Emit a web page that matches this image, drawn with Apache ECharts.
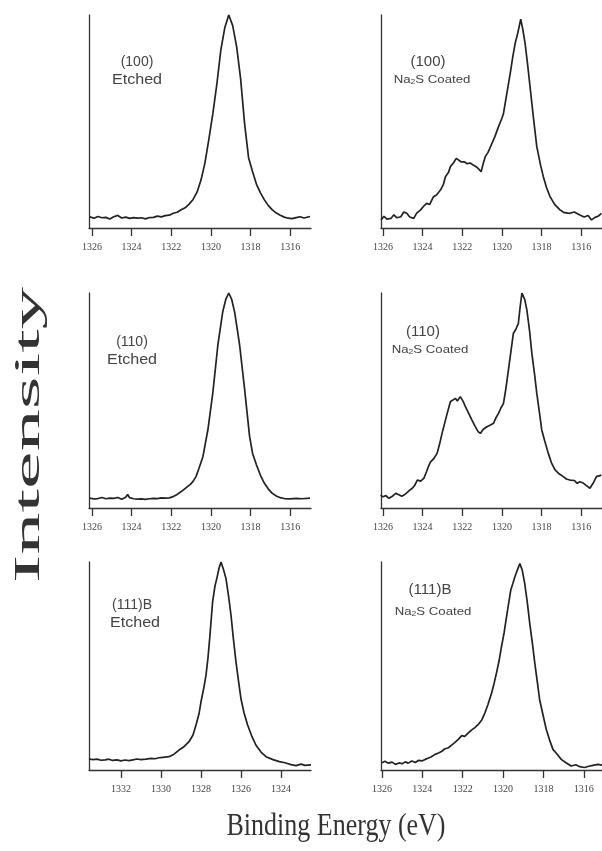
<!DOCTYPE html>
<html>
<head>
<meta charset="utf-8">
<script src="https://cdn.jsdelivr.net/npm/echarts@6/dist/echarts.min.js"></script>
<style>
html,body{margin:0;padding:0;background:#fff}
#main{width:602px;height:851px}
</style>
</head>
<body>
<div id="main"></div>
<script>
// tick labels
var ticksMain = [1326, 1324, 1322, 1320, 1318, 1316];
var ticks111 = [1332, 1330, 1328, 1326, 1324];

// [binding energy, intensity]
var etched100 = [[1326.1,5.2],[1325.9,4.6],[1325.7,5.4],[1325.5,4.8],[1325.3,5.0],[1325.1,4.2],[1324.9,5.3],[1324.7,5.9],[1324.5,4.7],[1324.3,5.1],[1324.1,4.5],[1323.9,4.9],[1323.7,4.6],[1323.5,4.8],[1323.3,4.3],[1323.1,4.9],[1322.9,5.0],[1322.7,5.6],[1322.5,5.2],[1322.3,5.8],[1322.1,6.0],[1321.9,6.9],[1321.7,7.4],[1321.5,8.6],[1321.3,9.5],[1321.1,11.2],[1320.9,13.4],[1320.7,16.8],[1320.5,22.5],[1320.3,30.6],[1320.1,41.8],[1319.9,53.8],[1319.7,67.5],[1319.5,83.5],[1319.3,94],[1319.1,100],[1318.9,95],[1318.7,85],[1318.5,70],[1318.3,49],[1318.1,33],[1317.9,26.5],[1317.7,20.5],[1317.5,16.5],[1317.3,13.2],[1317.1,10.5],[1316.9,8.5],[1316.7,7.0],[1316.5,6.0],[1316.3,5.1],[1316.1,4.6],[1315.9,4.4],[1315.7,4.9],[1315.5,5.3],[1315.3,4.7],[1315.0,5.4]];

var coated100 = [[1326.1,3.8],[1325.95,5.5],[1325.8,4.2],[1325.6,4.5],[1325.45,6.2],[1325.3,4.8],[1325.1,5.3],[1324.95,7.5],[1324.8,6.9],[1324.65,5.2],[1324.45,4.5],[1324.3,7.0],[1324.1,8.5],[1323.95,10.2],[1323.8,11.6],[1323.65,11.0],[1323.45,14.7],[1323.3,15.5],[1323.1,17.8],[1322.95,20.5],[1322.85,24.1],[1322.7,26.0],[1322.6,28.8],[1322.45,30.5],[1322.3,32.7],[1322.2,31.8],[1322.05,31.0],[1321.9,31.1],[1321.75,30.2],[1321.6,30.5],[1321.45,29.6],[1321.3,28.8],[1321.15,27.5],[1321.05,26.4],[1320.95,30.0],[1320.84,33.5],[1320.7,35.5],[1320.5,39.8],[1320.35,43.0],[1320.17,47.6],[1320.0,51.5],[1319.92,53.8],[1319.8,60.5],[1319.75,63.2],[1319.58,72.6],[1319.45,80.5],[1319.33,86.7],[1319.2,91.5],[1319.05,98],[1318.95,93.5],[1318.83,86.7],[1318.7,76.5],[1318.58,66.3],[1318.4,51],[1318.24,38.2],[1318.05,29.5],[1317.91,24.1],[1317.75,19.0],[1317.57,14.7],[1317.35,11.2],[1317.07,8.5],[1316.85,7.2],[1316.57,6.9],[1316.35,7.5],[1316.07,6.1],[1315.85,5.2],[1315.65,5.9],[1315.48,3.8],[1315.3,5.0],[1315.15,5.5],[1314.98,6.9]];

var etched110 = [[1326.1,4.6],[1325.9,4.2],[1325.7,4.4],[1325.5,4.9],[1325.3,4.3],[1325.1,4.6],[1324.9,4.5],[1324.7,4.9],[1324.5,4.1],[1324.3,5.0],[1324.2,6.3],[1324.1,4.8],[1323.9,4.3],[1323.7,4.1],[1323.5,4.2],[1323.3,4.0],[1323.1,4.3],[1322.9,4.5],[1322.7,4.4],[1322.5,4.7],[1322.3,4.6],[1322.1,4.7],[1321.9,5.3],[1321.75,6.0],[1321.55,7.3],[1321.4,8.3],[1321.2,9.8],[1321.05,10.9],[1320.9,12.4],[1320.75,14.6],[1320.6,18.5],[1320.4,24],[1320.15,36.5],[1319.9,53.8],[1319.65,75.7],[1319.4,91.4],[1319.25,97],[1319.1,100],[1318.95,97],[1318.8,91],[1318.55,75.7],[1318.3,55.3],[1318.05,33.4],[1317.9,25.5],[1317.7,20.0],[1317.5,15.2],[1317.3,11.5],[1317.1,8.8],[1316.9,6.8],[1316.7,5.6],[1316.5,4.8],[1316.3,4.4],[1316.0,4.2],[1315.7,4.5],[1315.4,4.3],[1315.0,4.6]];

var coated110 = [[1326.12,6.0],[1326.0,5.2],[1325.85,5.8],[1325.7,4.5],[1325.55,5.3],[1325.36,6.8],[1325.2,6.2],[1325.05,5.5],[1324.94,6.0],[1324.8,7.0],[1324.65,8.3],[1324.52,9.2],[1324.4,10.5],[1324.27,13.0],[1324.1,12.5],[1323.94,13.8],[1323.8,17.0],[1323.7,19.5],[1323.6,21.5],[1323.45,22.8],[1323.27,25.4],[1323.15,29.5],[1323.02,34.7],[1322.9,39.0],[1322.76,44.0],[1322.6,49.4],[1322.5,48.5],[1322.35,51.0],[1322.25,49.8],[1322.1,51.8],[1321.95,49.5],[1321.84,47.1],[1321.7,44.5],[1321.51,40.9],[1321.35,38.0],[1321.2,35.5],[1321.09,34.7],[1320.95,36.5],[1320.76,37.8],[1320.6,38.5],[1320.42,39.4],[1320.3,42.0],[1320.17,44.0],[1320.05,46.5],[1319.92,48.7],[1319.8,55.5],[1319.67,64.2],[1319.55,72.5],[1319.42,81.3],[1319.3,83.0],[1319.17,85.9],[1319.08,93.5],[1318.99,99.9],[1318.85,97.0],[1318.74,92.1],[1318.6,82.0],[1318.49,72.0],[1318.35,62.0],[1318.24,53.3],[1318.1,44.0],[1317.99,36.3],[1317.85,31.5],[1317.66,25.4],[1317.5,21.0],[1317.32,17.7],[1317.1,15.8],[1316.9,14.6],[1316.75,13.5],[1316.57,13.0],[1316.35,12.8],[1316.2,11.5],[1316.07,12.2],[1315.9,11.6],[1315.75,10.5],[1315.56,9.2],[1315.4,11.5],[1315.23,14.6],[1314.98,15.3]];

var etched111 = [[1333.6,5.3],[1333.4,5.0],[1333.2,5.2],[1333.0,4.7],[1332.8,4.9],[1332.6,5.2],[1332.42,4.6],[1332.2,4.9],[1332.0,4.4],[1331.8,4.8],[1331.6,4.5],[1331.4,4.9],[1331.2,5.3],[1331.0,5.0],[1330.75,5.2],[1330.5,5.6],[1330.3,5.4],[1330.1,5.9],[1329.9,6.1],[1329.6,6.4],[1329.35,7.6],[1329.1,9.6],[1328.85,11.2],[1328.6,13.6],[1328.4,16.8],[1328.25,21.6],[1328.1,27.0],[1328.0,32.8],[1327.85,40.0],[1327.75,45.6],[1327.65,54.0],[1327.55,65.0],[1327.42,80.8],[1327.3,88.5],[1327.2,92.5],[1327.1,97.0],[1327.0,100],[1326.88,96.5],[1326.75,92.0],[1326.6,82.0],[1326.5,74.4],[1326.38,63.0],[1326.25,51.9],[1326.1,41.0],[1326.0,34.2],[1325.85,27.5],[1325.67,21.6],[1325.45,16.0],[1325.25,11.9],[1325.0,8.6],[1324.75,6.4],[1324.4,5.0],[1324.08,4.0],[1323.8,3.5],[1323.5,2.6],[1323.25,2.1],[1323.0,2.8],[1322.8,2.2],[1322.5,2.5]];

var coated111 = [[1326.0,3.5],[1325.85,4.2],[1325.7,3.3],[1325.5,3.8],[1325.34,2.7],[1325.15,3.4],[1325.0,3.0],[1324.85,3.9],[1324.7,3.3],[1324.52,4.3],[1324.35,3.6],[1324.2,4.6],[1324.0,4.4],[1323.86,5.1],[1323.7,5.8],[1323.55,6.4],[1323.37,7.5],[1323.2,8.2],[1323.05,8.9],[1322.9,10.1],[1322.71,10.7],[1322.55,12.0],[1322.4,13.2],[1322.22,14.7],[1322.05,16.5],[1321.9,16.2],[1321.72,17.9],[1321.55,19.3],[1321.4,20.4],[1321.23,21.9],[1321.05,24.2],[1320.9,27.5],[1320.75,31.5],[1320.57,37.0],[1320.45,41.5],[1320.33,46.6],[1320.2,52.5],[1320.08,59.3],[1319.95,66.0],[1319.83,73.7],[1319.72,80.5],[1319.62,86.5],[1319.52,89.5],[1319.42,92.8],[1319.3,96.0],[1319.17,99.2],[1319.05,96.0],[1318.93,89.7],[1318.8,80.5],[1318.68,70.5],[1318.55,61.0],[1318.43,51.4],[1318.3,42.0],[1318.19,33.8],[1318.0,25.5],[1317.86,19.5],[1317.7,14.5],[1317.53,9.9],[1317.3,7.3],[1317.12,5.1],[1316.9,3.6],[1316.63,1.9],[1316.4,2.5],[1316.2,1.6],[1315.97,1.2],[1315.75,1.8],[1315.55,2.2],[1315.3,2.7],[1315.1,2.3]];

var myChart = echarts.init(document.getElementById('main'), null, {renderer: 'canvas'});

var axisColor = '#333';
var lineColor = '#222';

// panel layout: grid box, x range, ticks
var panels = [
	{data: etched100, ticks: ticksMain, min: 1314.95, max: 1326.15, left: 89,  top: 15,  width: 222, height: 213},
	{data: coated100, ticks: ticksMain, min: 1314.95, max: 1326.1,  left: 381, top: 15,  width: 221, height: 213},
	{data: etched110, ticks: ticksMain, min: 1314.95, max: 1326.15, left: 89,  top: 293, width: 222, height: 215},
	{data: coated110, ticks: ticksMain, min: 1314.95, max: 1326.1,  left: 381, top: 293, width: 221, height: 215},
	{data: etched111, ticks: ticks111,  min: 1322.5,  max: 1333.6,  left: 89,  top: 562, width: 222, height: 208},
	{data: coated111, ticks: ticksMain, min: 1315.1,  max: 1326.05, left: 381, top: 562, width: 221, height: 208}
];

var grid = [], xAxis = [], yAxis = [], series = [];
$each = function(arr, fn){ for (var i = 0; i < arr.length; i++) fn(i, arr[i]); };
$each(panels, function(i, p){
	grid.push({left: p.left, top: p.top, width: p.width, height: p.height});
	xAxis.push({
		type: 'value', gridIndex: i, inverse: true, min: p.min, max: p.max,
		axisLine: {show: true, lineStyle: {color: axisColor, width: 1.3}},
		axisTick: {show: true, inside: false, length: 8, customValues: p.ticks, lineStyle: {color: axisColor, width: 1.3}},
		axisLabel: {show: true, customValues: p.ticks, margin: 14, fontFamily: 'Liberation Serif', fontSize: 10, color: '#444',
			formatter: function(v){ return String(v); }},
		splitLine: {show: false}
	});
	yAxis.push({
		type: 'value', gridIndex: i, min: 0, max: 100,
		axisLine: {show: true, lineStyle: {color: axisColor, width: 1.3}},
		axisTick: {show: false}, axisLabel: {show: false}, splitLine: {show: false}
	});
	series.push({
		type: 'line', xAxisIndex: i, yAxisIndex: i, data: p.data,
		symbol: 'none', clip: false,
		lineStyle: {color: lineColor, width: 1.7}
	});
});

var txt = '#444';
function label(x, y, text, size, sx){
	return {type: 'text', x: x, y: y, scaleX: sx || 1,
		style: {text: text, fill: txt, font: size + 'px "Liberation Sans", Arial', align: 'center', verticalAlign: 'middle'}};
}
function coatedLabel(x, y, size, sx){
	return {type: 'text', x: x, y: y, scaleX: sx || 1,
		style: {text: '{a|Na}{s|2}{a|S Coated}', fill: txt, align: 'center', verticalAlign: 'middle',
			rich: {
				a: {fontFamily: 'Liberation Sans', fontSize: size, fill: txt},
				s: {fontFamily: 'Liberation Sans', fontSize: size * 0.65, fill: txt, verticalAlign: 'bottom', padding: [size * 0.45, 0, 0, 0]}
			}}};
}

var graphic = [
	label(137, 62, '(100)', 14), label(137, 80, 'Etched', 14, 1.15),
	label(428, 62, '(100)', 15), coatedLabel(432, 80, 11, 1.2),
	label(132, 342, '(110)', 14), label(132, 360, 'Etched', 14, 1.15),
	label(423, 332, '(110)', 15), coatedLabel(430, 350, 11, 1.2),
	label(132, 605, '(111)B', 14), label(135, 623, 'Etched', 14, 1.15),
	label(430, 590, '(111)B', 15), coatedLabel(433, 612, 11, 1.2),
	{type: 'text', x: 30, y: 435, rotation: Math.PI / 2, scaleX: 2.35,
		style: {text: 'Intensity', fill: '#333', font: '36px "Liberation Serif", serif', align: 'center', verticalAlign: 'middle'}},
	{type: 'text', x: 336, y: 827, scaleY: 1.2,
		style: {text: 'Binding Energy (eV)', fill: '#333', font: '26px "Liberation Serif", serif', align: 'center', verticalAlign: 'middle'}}
];

var option = {
	animation: false,
	backgroundColor: '#fff',
	grid: grid,
	xAxis: xAxis,
	yAxis: yAxis,
	series: series,
	graphic: graphic
};
myChart.setOption(option, true);
</script>
</body>
</html>
